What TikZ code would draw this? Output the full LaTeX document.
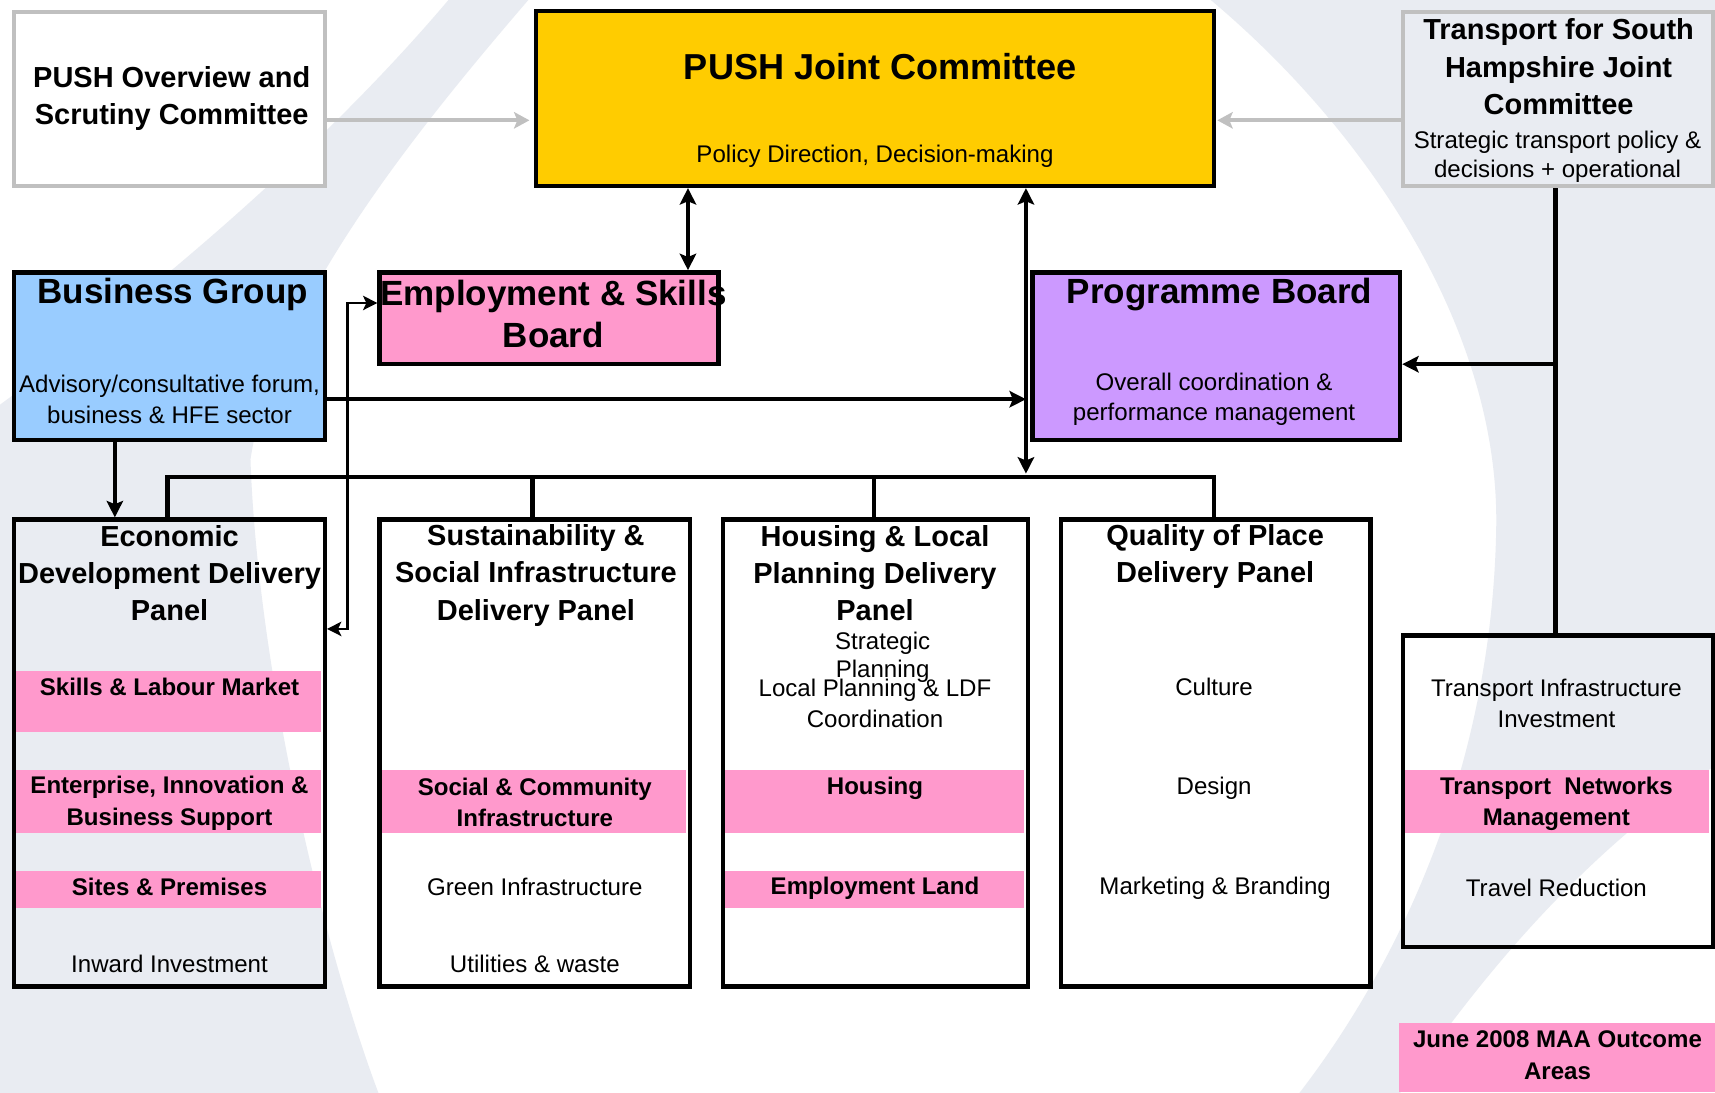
\documentclass[tikz,border=0pt]{standalone}
\usepackage{fontspec}
\setmainfont{Liberation Sans}
\usetikzlibrary{arrows.meta}
\definecolor{pushyellow}{HTML}{FFCC00}
\definecolor{bgblue}{HTML}{99CCFF}
\definecolor{pinkc}{HTML}{FF99CC}
\definecolor{purplec}{HTML}{CC99FF}
\definecolor{lgrey}{HTML}{C0C0C0}
\definecolor{swoosh}{HTML}{E9ECF2}
\tikzset{
  ah/.tip={Stealth[length=15pt,width=15pt,inset=3pt]},
  ahs/.tip={Stealth[length=13pt,width=13pt,inset=3pt]},
  box/.style={draw=black, line width=4pt, rectangle, inner sep=0pt, anchor=north west},
  gbox/.style={draw=lgrey, line width=4pt, rectangle, inner sep=0pt, anchor=north west},
  band/.style={fill=pinkc, draw=none, rectangle, inner sep=0pt, anchor=north west},
  tbig/.style={font=\fontsize{32}{38}\selectfont\bfseries, align=center, inner sep=0pt},
  tmid/.style={font=\fontsize{26.5}{34}\selectfont\bfseries, align=center, inner sep=0pt},
  tsm/.style={font=\fontsize{22}{28}\selectfont, align=center, inner sep=0pt},
  tsmb/.style={font=\fontsize{22}{29}\selectfont\bfseries, align=center, inner sep=0pt},
  conn/.style={draw=black, line width=4pt},
  thinconn/.style={draw=black, line width=2.5pt},
  garrow/.style={draw=lgrey, line width=3.5pt, -{Stealth[length=14pt,width=15pt,inset=3pt]}},
}
\begin{document}
\begin{tikzpicture}[x=1pt,y=-1pt]
\useasboundingbox (0,0) rectangle (1568,999.3);
\fill[white] (0,0) rectangle (1568,999.3);
% background swoosh
\fill[swoosh] (410,0) -- (483,0) .. controls (380,120) and (250,280) .. (229,420)
   .. controls (235,600) and (290,850) .. (346,999.3) -- (0,999.3) -- (0,370)
   .. controls (150,260) and (300,130) .. (410,0) -- cycle;
\fill[swoosh] (1107,0) .. controls (1250,120) and (1370,300) .. (1368,480)
   .. controls (1365,700) and (1280,880) .. (1188,999.3) -- (1280,999.3)
   .. controls (1330,930) and (1420,800) .. (1568,700) -- (1568,0) -- cycle;

% pink bands
\node[band, minimum width=280pt, minimum height=56pt] (eb1) at (13,613) {};
\node[band, minimum width=280pt, minimum height=57pt] (eb2) at (13,704) {};
\node[band, minimum width=280pt, minimum height=34pt] (eb3) at (13,796) {};
\node[band, minimum width=280pt, minimum height=57pt] (sb1) at (347,704) {};
\node[band, minimum width=275pt, minimum height=57pt] (hb1) at (661,704) {};
\node[band, minimum width=275pt, minimum height=34pt] (hb2) at (661,796) {};
\node[band, minimum width=279pt, minimum height=57pt] (tb1) at (1283,704) {};
\node[band, minimum width=289pt, minimum height=63pt] (leg) at (1279,935) {};

% top boxes
\node[gbox, fill=white, minimum width=284pt, minimum height=159pt] (ovs) at (11,9) {};
\node[box, fill=pushyellow, minimum width=620pt, minimum height=160pt] (pjc) at (488,8) {};
\node[gbox, minimum width=283pt, minimum height=159pt] (tsh) at (1281,9) {};
\node[box, fill=bgblue, minimum width=284pt, minimum height=153pt] (bg) at (11,247) {};
\node[box, fill=pinkc, minimum width=310pt, minimum height=84pt] (esb) at (345,247) {};
\node[box, fill=purplec, minimum width=336pt, minimum height=153pt] (pb) at (942,247) {};

% panels
\node[box, minimum width=284pt, minimum height=427pt] (econ) at (11,473) {};
\node[box, minimum width=284pt, minimum height=427pt] (sust) at (345,473) {};
\node[box, minimum width=279pt, minimum height=427pt] (hous) at (659,473) {};
\node[box, minimum width=283pt, minimum height=427pt] (qual) at (968,473) {};
\node[box, minimum width=283pt, minimum height=285pt] (tpan) at (1281,579) {};

% texts top
\node[tmid] (ovst) at (157,90) {PUSH Overview and\\Scrutiny Committee};
\node[tbig, font=\fontsize{33}{38}\selectfont\bfseries] (pjct) at (805,61) {PUSH Joint Committee};
\node[tsm] (pjcs) at (800,143) {Policy Direction, Decision-making};
\node[tmid] (tsht) at (1425,61) {Transport for South\\Hampshire Joint\\Committee};
\node[tsm, font=\fontsize{22}{27}\selectfont] (tshs) at (1424,143.5) {Strategic transport policy \&\\decisions + operational};
\node[tbig] (bgt) at (158,269) {Business Group};
\node[tsm] (bgs) at (155,365) {Advisory/consultative forum,\\business \& HFE sector};
\node[tbig] (esbt) at (506,287) {Employment \& Skills\\Board};
\node[tbig] (pbt) at (1115,269) {Programme Board};
\node[tsm] (pbs) at (1110,365) {Overall coordination \&\\performance management};

% panel texts
\node[tmid] (econt) at (155,524) {Economic\\Development Delivery\\Panel};
\node[tsmb] (e1) at (155,628) {Skills \& Labour Market};
\node[tsmb] (e2) at (155,734.5) {Enterprise, Innovation \&\\Business Support};
\node[tsmb] (e3) at (155,811) {Sites \& Premises};
\node[tsm] (e4) at (155,881) {Inward Investment};

\node[tmid] (sustt) at (490,526) {Sustainability \&\\Social Infrastructure\\Delivery Panel};
\node[tsmb] (s1) at (489,733.5) {Social \& Community\\Infrastructure};
\node[tsm] (s2) at (489,811) {Green Infrastructure};
\node[tsm] (s3) at (489,881) {Utilities \& waste};

\node[tmid] (houst) at (800,524) {Housing \& Local\\Planning Delivery\\Panel};
\node[tsm, font=\fontsize{22}{26}\selectfont] (h0) at (807,601) {Strategic\\Planning};
\node[tsm] (h1) at (800,643) {Local Planning \& LDF\\Coordination};
\node[tsmb] (h2) at (800,721) {Housing};
\node[tsmb] (h3) at (800,812) {Employment Land};

\node[tmid] (qualt) at (1111,509) {Quality of Place\\Delivery Panel};
\node[tsm] (q1) at (1110,628) {Culture};
\node[tsm] (q2) at (1110,721) {Design};
\node[tsm] (q3) at (1111,812) {Marketing \& Branding};

\node[tsm] (t1) at (1423,643) {Transport Infrastructure\\Investment};
\node[tsmb] (t2) at (1423,735) {Transport~ Networks\\Management};
\node[tsm] (t3) at (1423,812) {Travel Reduction};

\node[tsmb] (legt) at (1424,965) {June 2008 MAA Outcome\\Areas};

% connectors
\coordinate (yA) at (0,110);
\draw[garrow, shorten >=4pt] (ovs.east |- yA) -- (pjc.west |- yA);
\draw[garrow, shorten >=1pt] (tsh.west |- yA) -- (pjc.east |- yA);

\coordinate (xE) at (629,0);
\draw[conn, ah-ah] (pjc.south -| xE) -- (esb.north -| xE);

\coordinate (xP) at (938,0);
\coordinate (busP) at (938,433);
\draw[conn, ah-ah] (pjc.south -| xP) -- (busP);

\coordinate (y365) at (0,365);
\draw[conn, -ah, shorten >=4pt] (bg.east |- y365) -- (pb.west |- y365);

\coordinate (x105) at (105,0);
\draw[conn, -ah] (bg.south -| x105) -- (econ.north -| x105);

\coordinate (bL) at (153,436);
\coordinate (bR) at (1110,436);
\coordinate (bS) at (487,436);
\coordinate (bH) at (799,436);
\draw[conn] (econ.north -| bL) -- (bL) -- (bR) -- (qual.north -| bR);
\draw[conn] (bS) -- (sust.north -| bS);
\draw[conn] (bH) -- (hous.north -| bH);

\coordinate (j1) at (318,277);
\coordinate (j2) at (318,575);
\draw[thinconn, ahs-ahs] (esb.west |- j1) -- (j1) -- (j2) -- (econ.east |- j2);

\coordinate (xT) at (1422,0);
\coordinate (jT) at (1422,333);
\draw[conn] (tsh.south -| xT) -- (tpan.north -| xT);
\draw[conn, -ah] (jT) -- (pb.east |- jT);
\end{tikzpicture}
\end{document}
